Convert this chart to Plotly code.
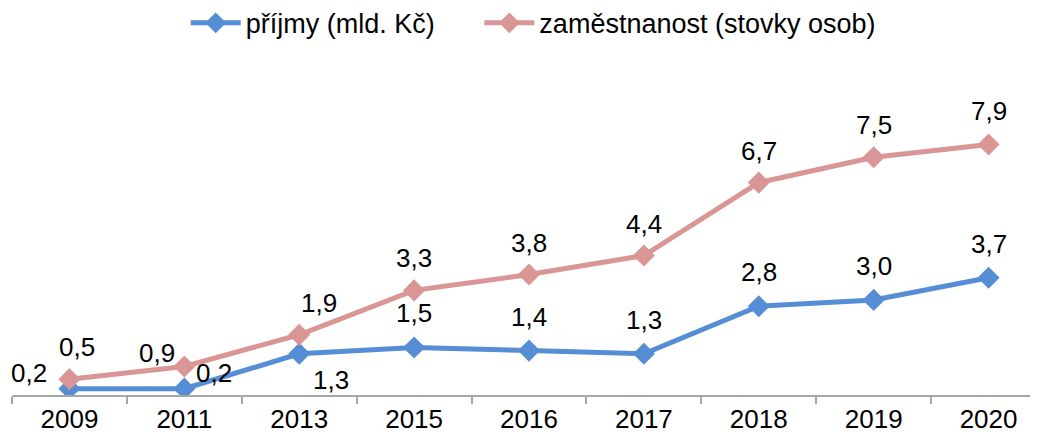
import plotly.graph_objects as go

years = ["2009", "2011", "2013", "2015", "2016", "2017", "2018", "2019", "2020"]
prijmy = [0.2, 0.2, 1.3, 1.5, 1.4, 1.3, 2.8, 3.0, 3.7]
zamestnanost = [0.5, 0.9, 1.9, 3.3, 3.8, 4.4, 6.7, 7.5, 7.9]
prijmy_labels = ["0,2", "0,2", "1,3", "1,5", "1,4", "1,3", "2,8", "3,0", "3,7"]
zam_labels = ["0,5", "0,9", "1,9", "3,3", "3,8", "4,4", "6,7", "7,5", "7,9"]

# label offsets (style)
prijmy_shift = [(-40, 16), (30, 16), (32, -26), (0, 34), (0, 34), (0, 34), (0, 34), (0, 34), (0, 34)]
zam_shift = [(8, 32), (-27, 13), (20, 32), (0, 32), (0, 32), (0, 32), (0, 32), (0, 32), (0, 34)]

blue = "#558ED5"
pink = "#D99694"
FONT = "Liberation Sans, Arial"

fig = go.Figure()
fig.add_trace(go.Scatter(x=years, y=prijmy, mode="lines+markers", name="příjmy (mld. Kč)",
                         line=dict(color=blue, width=5), legend="legend",
                         marker=dict(symbol="diamond", size=17, color=blue)))
fig.add_trace(go.Scatter(x=years, y=zamestnanost, mode="lines+markers", name="zaměstnanost (stovky osob)",
                         line=dict(color=pink, width=5), legend="legend2",
                         marker=dict(symbol="diamond", size=17, color=pink)))

ann = []
for ys, labs, shifts in [(prijmy, prijmy_labels, prijmy_shift),
                         (zamestnanost, zam_labels, zam_shift)]:
    for i, (y, t, (dx, dy)) in enumerate(zip(ys, labs, shifts)):
        ann.append(dict(x=i, y=y, xref="x", yref="y", text=t, showarrow=False,
                        xshift=dx, yshift=dy,
                        font=dict(size=26, color="black", family=FONT)))

leg_common = dict(orientation="h", xanchor="left", xref="paper", yref="container", y=0.965,
                  yanchor="middle", font=dict(size=27, family=FONT), itemwidth=50,
                  bgcolor="rgba(0,0,0,0)")

fig.update_layout(
    width=1038, height=437,
    margin=dict(l=4, r=0, t=70, b=50),
    paper_bgcolor="white", plot_bgcolor="white",
    font=dict(family=FONT, size=26, color="black"),
    showlegend=True,
    legend=dict(x=0.168, **leg_common),
    legend2=dict(x=0.452, **leg_common),
    annotations=ann,
    xaxis=dict(type="category", showline=True, linecolor="#A6A6A6", linewidth=1.5, ticks="outside",
               tickson="boundaries", ticklen=7, tickcolor="#A6A6A6", tickwidth=1.5,
               showgrid=False, tickfont=dict(size=26), range=[-0.5, 8.5], automargin=False),
    yaxis=dict(visible=False, range=[0, 10], showgrid=False, zeroline=False, automargin=False),
)
fig.write_html("out.html")
